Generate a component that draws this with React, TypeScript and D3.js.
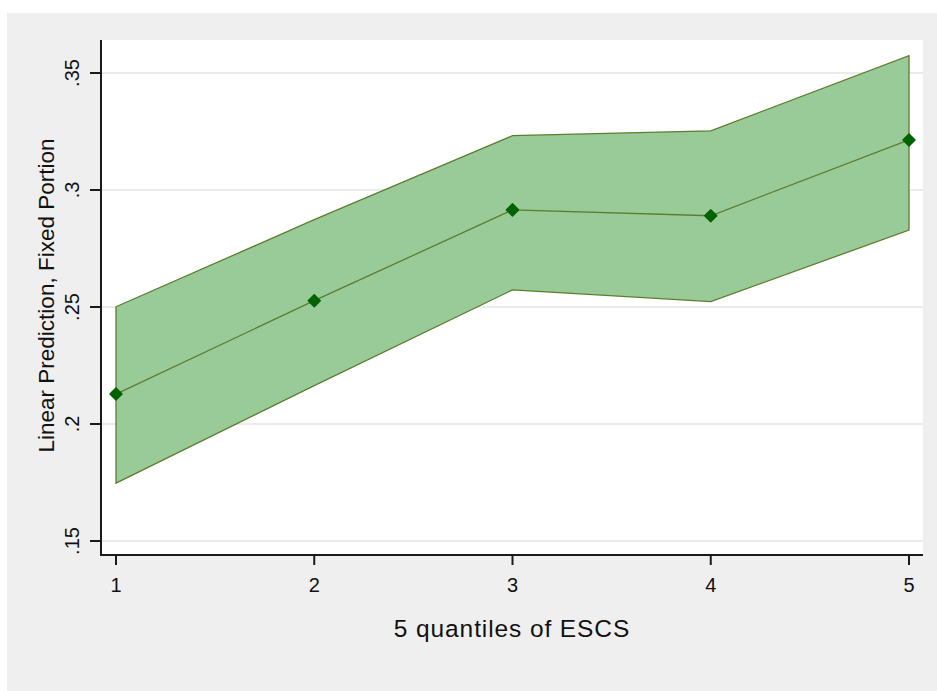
import React from "react";
import * as d3 from "d3";

// Quintiles of ESCS and the fixed-portion linear prediction with its confidence band
const quantiles = [1, 2, 3, 4, 5];
const prediction = [0.2128, 0.2527, 0.2915, 0.289, 0.3214];
const upperCI = [0.2501, 0.2873, 0.3232, 0.3253, 0.3574];
const lowerCI = [0.1747, 0.2164, 0.2573, 0.2523, 0.2829];
const yTicks = [0.15, 0.2, 0.25, 0.3, 0.35];
const yTickLabels = [".15", ".2", ".25", ".3", ".35"];
const xTicks = [1, 2, 3, 4, 5];

const W = 937;
const H = 691;
const plot = { left: 101, right: 923, top: 40, bottom: 555 };

const FONT = "'Liberation Sans', Arial, sans-serif";

export default function App() {
  const x = d3
    .scaleLinear()
    .domain([1, 5])
    .range([116, 909]);
  const y = d3
    .scaleLinear()
    .domain([0.15, 0.35])
    .range([541, 73]);

  const rows = quantiles.map((q, i) => ({
    q,
    p: prediction[i],
    lo: lowerCI[i],
    hi: upperCI[i],
  }));

  const band = d3
    .area<(typeof rows)[number]>()
    .x((d) => x(d.q))
    .y0((d) => y(d.lo))
    .y1((d) => y(d.hi));
  const line = d3
    .line<(typeof rows)[number]>()
    .x((d) => x(d.q))
    .y((d) => y(d.p));

  const diamond = d3.symbol().type(d3.symbolDiamond2).size(92)();

  const midY = (plot.top + plot.bottom) / 2;

  return (
    <svg
      width={W}
      height={H}
      style={{ position: "absolute", left: 0, top: 0, display: "block" }}
      fontFamily={FONT}
    >
      <rect x={0} y={0} width={W} height={H} fill="#ffffff" />
      <rect x={7} y={13} width={W - 7} height={H - 13} fill="#efefef" />
      <rect
        x={plot.left}
        y={plot.top}
        width={plot.right - plot.left}
        height={plot.bottom - plot.top}
        fill="#ffffff"
      />

      {/* horizontal grid */}
      {yTicks.map((t) => (
        <line
          key={`g${t}`}
          x1={plot.left}
          x2={plot.right}
          y1={y(t)}
          y2={y(t)}
          stroke="#e4e4e4"
          strokeWidth={1.5}
        />
      ))}

      {/* confidence band */}
      <path d={band(rows) ?? ""} fill="#99cb98" stroke="#5c7d30" strokeWidth={1.3} />

      {/* prediction line and markers */}
      <path d={line(rows) ?? ""} fill="none" stroke="#5c7d30" strokeWidth={1.3} />
      {rows.map((d) => (
        <path
          key={`m${d.q}`}
          d={diamond ?? ""}
          transform={`translate(${x(d.q)},${y(d.p)})`}
          fill="#006300"
          stroke="#006300"
          strokeWidth={1.5}
          strokeLinejoin="round"
        />
      ))}

      {/* y axis */}
      <line x1={plot.left} x2={plot.left} y1={plot.top} y2={plot.bottom} stroke="#1a1a1a" strokeWidth={2} />
      {yTicks.map((t, i) => (
        <g key={`y${t}`}>
          <line x1={plot.left - 11} x2={plot.left} y1={y(t)} y2={y(t)} stroke="#1a1a1a" strokeWidth={2} />
          <text
            transform={`translate(79,${y(t)}) rotate(-90)`}
            textAnchor="middle"
            fontSize={20}
            fill="#111"
          >
            {yTickLabels[i]}
          </text>
        </g>
      ))}

      {/* x axis */}
      <line x1={plot.left - 1} x2={plot.right} y1={plot.bottom} y2={plot.bottom} stroke="#1a1a1a" strokeWidth={2} />
      {xTicks.map((t) => (
        <g key={`x${t}`}>
          <line x1={x(t)} x2={x(t)} y1={plot.bottom} y2={plot.bottom + 10} stroke="#1a1a1a" strokeWidth={2} />
          <text x={x(t)} y={592} textAnchor="middle" fontSize={20} fill="#111">
            {t}
          </text>
        </g>
      ))}

      {/* axis titles */}
      <text
        transform={`translate(54,${midY - 2}) rotate(-90)`}
        textAnchor="middle"
        fontSize={22.5}
        fill="#111"
      >
        Linear Prediction, Fixed Portion
      </text>
      <text
        x={(plot.left + plot.right) / 2}
        y={637}
        textAnchor="middle"
        fontSize={24.5}
        letterSpacing={0.9}
        fill="#111"
      >
        5 quantiles of ESCS
      </text>
    </svg>
  );
}
